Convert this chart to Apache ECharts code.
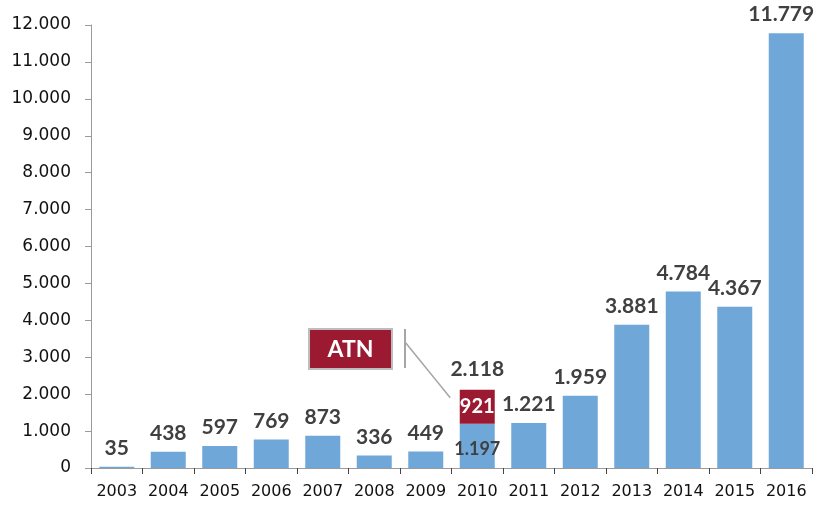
<!DOCTYPE html>
<html>
<head>
<meta charset="utf-8">
<script src="https://cdn.jsdelivr.net/npm/echarts@6/dist/echarts.min.js"></script>
<style>
	html, body { margin: 0; padding: 0; background: #fff; }
	#chart { width: 816px; height: 508px; }
</style>
</head>
<body>
<div id="chart"></div>
<script>
// data
const years = ['2003', '2004', '2005', '2006', '2007', '2008', '2009', '2010', '2011', '2012', '2013', '2014', '2015', '2016']
const baseValues = [35, 438, 597, 769, 873, 336, 449, 1197, 1221, 1959, 3881, 4784, 4367, 11779]
const atnValues = [null, null, null, null, null, null, null, 921, null, null, null, null, null, null]
const atnIndex = 7
const atnName = 'ATN'

const fmt = (v) => String(v).replace(/\B(?=(\d{3})+(?!\d))/g, '.')
const FONT = 'Lato, "Noto Sans", sans-serif'
const AXIS_FONT = '"DejaVu Sans", sans-serif'

const myChart = echarts.init(document.getElementById('chart'))

const blueData = baseValues.map((v, i) => {
	if (i === atnIndex) {
		return { value: v, label: { position: 'inside', fontSize: 18, offset: [0, 3] } }
	}
	if (i === baseValues.length - 1) {
		// keep the last label inside the canvas
		return { value: v, label: { offset: [-5, 0] } }
	}
	return v
})
const total = baseValues[atnIndex] + atnValues[atnIndex]

const option = {
	animation: false,
	grid: { left: 91, right: 4, top: 25, bottom: 40 },
	xAxis: {
		type: 'category',
		data: years,
		axisLine: { lineStyle: { color: '#9a9a9a' } },
		axisTick: { show: true, alignWithLabel: false, length: 6, lineStyle: { color: '#444' } },
		axisLabel: { interval: 0, color: '#111', fontSize: 16, fontFamily: AXIS_FONT, margin: 16 }
	},
	yAxis: {
		type: 'value',
		min: 0,
		max: 12000,
		interval: 1000,
		axisLine: { show: true, lineStyle: { color: '#9a9a9a' } },
		axisTick: { show: true, length: 6, lineStyle: { color: '#9a9a9a' } },
		splitLine: { show: false },
		axisLabel: { color: '#111', fontSize: 17, fontFamily: AXIS_FONT, margin: 20, formatter: (v) => fmt(v) }
	},
	series: [
		{
			name: 'base',
			type: 'bar',
			stack: 'total',
			barWidth: 35,
			data: blueData,
			itemStyle: { color: '#6fa8d8' },
			label: {
				show: true,
				position: 'top',
				distance: 8,
				color: '#404040',
				fontWeight: 'bold',
				fontSize: 21,
				fontFamily: FONT,
				formatter: (p) => fmt(p.value)
			}
		},
		{
			name: atnName,
			type: 'bar',
			stack: 'total',
			barWidth: 35,
			data: atnValues,
			itemStyle: { color: '#9b1a31' },
			label: {
				show: true,
				position: 'inside',
				color: '#fff',
				fontWeight: 'bold',
				fontSize: 20,
				fontFamily: FONT,
				formatter: (p) => fmt(p.value)
			},
			markPoint: {
				symbol: 'circle',
				symbolSize: 0,
				data: [{ coord: [years[atnIndex], total], value: total }],
				label: {
					show: true,
					position: 'top',
					distance: 10,
					color: '#404040',
					fontWeight: 'bold',
					fontSize: 21,
					fontFamily: FONT,
					formatter: (p) => fmt(p.value)
				}
			}
		}
	]
}

option && myChart.setOption(option)

// ATN callout box with leader line
const corner = myChart.convertToPixel({ seriesIndex: 1 }, [atnIndex, total])
const ax = corner[0] - 27
const ay = corner[1] + 8
myChart.setOption({
	graphic: [
		{
			type: 'rect',
			shape: { x: 309, y: 329, width: 83, height: 40 },
			style: { fill: '#9b1a31', stroke: '#bdbdbd', lineWidth: 2 }
		},
		{
			type: 'text',
			x: 350.5,
			y: 350,
			style: {
				text: atnName,
				fill: '#fff',
				font: 'bold 23px ' + FONT,
				align: 'center',
				verticalAlign: 'middle'
			}
		},
		{
			type: 'line',
			shape: { x1: 405, y1: 329, x2: 405, y2: 368 },
			style: { stroke: '#a6a6a6', lineWidth: 2 }
		},
		{
			type: 'line',
			shape: { x1: 405, y1: 342, x2: ax, y2: ay },
			style: { stroke: '#a6a6a6', lineWidth: 1.5 }
		}
	]
})
</script>
</body>
</html>
